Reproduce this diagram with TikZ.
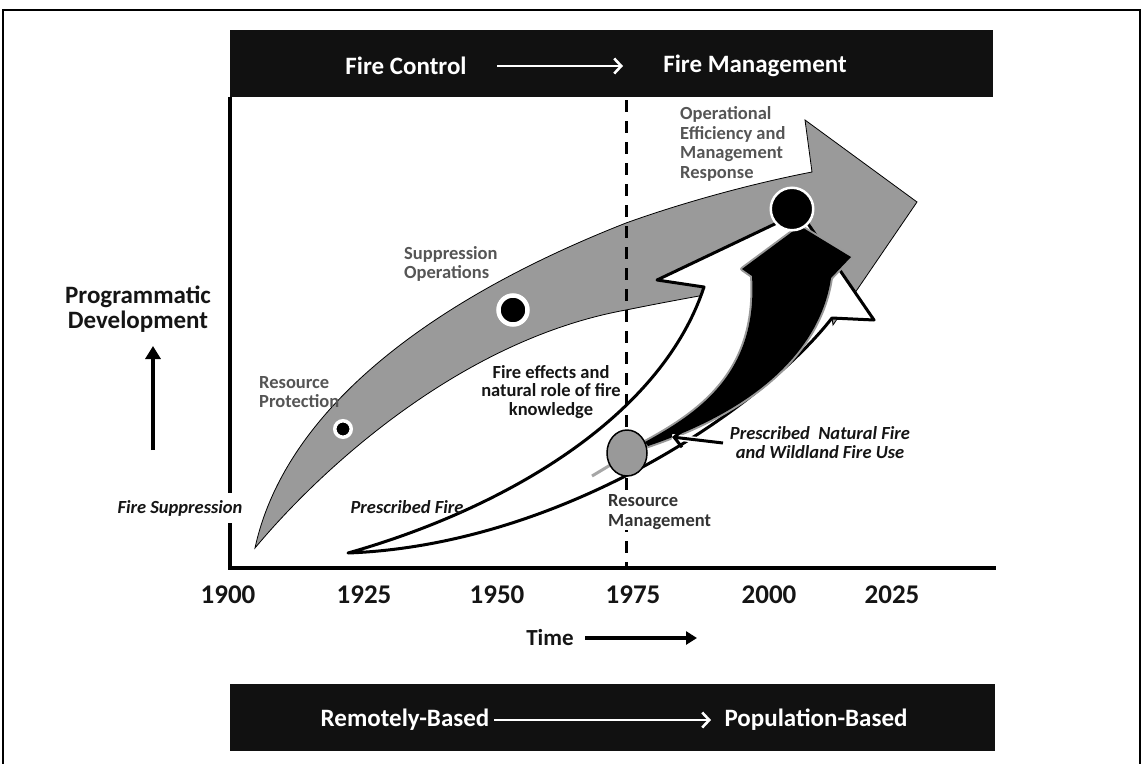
\documentclass[tikz,border=0pt]{standalone}
\usepackage{fontspec}
\setmainfont{Carlito}
\usetikzlibrary{arrows.meta,shapes.geometric}
\definecolor{barblack}{HTML}{111111}
\definecolor{arrowgrey}{HTML}{9A9A9A}
\definecolor{labelgrey}{HTML}{555555}
\definecolor{darklabel}{HTML}{333333}
\definecolor{circgrey}{HTML}{999999}
\definecolor{inkblack}{HTML}{151515}
\begin{document}
\begin{tikzpicture}[x=1pt,y=-1pt,
  bartext/.style={text=white,font=\bfseries\fontsize{25}{30}\selectfont,inner sep=0pt},
  bararrow/.style={draw=white,line width=2.6pt,-{Straight Barb[length=7pt,width=15pt,line width=2.6pt]}},
  greylabel/.style={text=labelgrey,font=\bfseries\fontsize{18.5}{19.5}\selectfont,align=left,inner sep=0pt,anchor=west},
  blacklabel/.style={text=inkblack,font=\bfseries\fontsize{18.5}{18.5}\selectfont,align=center,inner sep=0pt},
  italiclabel/.style={text=inkblack,font=\bfseries\itshape\fontsize{18.5}{19}\selectfont,align=center,inner sep=0pt},
  ticklabel/.style={text=inkblack,font=\bfseries\fontsize{27}{30}\selectfont,inner sep=0pt},
  dotnode/.style={circle,fill=black,draw=white,inner sep=0pt}
]
\useasboundingbox (0,0) rectangle (1143,763);
% outer frame
\draw[line width=1.5pt] (3,770) -- (3,10) -- (1140,10) -- (1140,770);
% bars
\fill[barblack] (230,30) rectangle (993,97);
\fill[barblack] (230,684) rectangle (995,751);
\node[bartext] (fc) at (406,66) {Fire Control};
\node[bartext] (fm) at (755,66) {Fire Management};
\coordinate (fca) at (497,66);
\coordinate (fcb) at (623,66);
\draw[bararrow] (fca) -- (fcb);
\node[bartext] (rb) at (405,720) {Remotely-Based};
\node[bartext] (pb) at (816,720) {Population-Based};
\coordinate (rba) at (494,720);
\coordinate (rbb) at (711,720);
\draw[bararrow] (rba) -- (rbb);
% axes
\draw[line width=4pt,line join=miter] (230,97) -- (230,568) -- (996,568);
% grey sweeping arrow
\draw[fill=arrowgrey,line width=0.8pt,line join=miter]
  (255,548) .. controls (285,410) and (430,300) .. (626,223)
  .. controls (690,200) and (760,182) .. (812,172)
  -- (805,120) -- (917,202) -- (833,325) -- (826,275)
  .. controls (760,285) and (690,297) .. (626,310)
  .. controls (460,340) and (320,470) .. (255,548) -- cycle;
% white arrow
\draw[fill=white,line width=3pt,line join=round]
  (348,553) .. controls (500,510) and (660,420) .. (704,287)
  -- (657,280) -- (800,212) -- (874,320) -- (832,318)
  .. controls (760,410) and (560,545) .. (348,553) -- cycle;
% faint tail and black arrow
\draw[line width=3pt,color=black!35] (592,476) -- (652,440);
\path[fill=black,preaction={draw=black!40,line width=4pt,line join=round}]
  (645,442) .. controls (700,412) and (758,372) .. (752,276)
  -- (742,269) -- (800,226) -- (851,257) -- (831,278)
  .. controls (822,340) and (770,405) .. (648,446) -- cycle;
% dashed 1975 line
\draw[line width=3pt,dash pattern=on 12pt off 9pt] (626,100) -- (626,568);
% circles
\node[ellipse,draw=black,line width=1.5pt,fill=circgrey,minimum width=40pt,minimum height=46pt,inner sep=0pt] (rmcirc) at (627,453) {};
\node[dotnode,line width=3.5pt,minimum size=16.5pt] (rpdot) at (343,429) {};
\node[dotnode,line width=4.5pt,minimum size=29pt] (sodot) at (513,310) {};
\node[dotnode,line width=2.5pt,minimum size=42.5pt] (oedot) at (792,209) {};
% left labels
\node[text=inkblack,font=\bfseries\fontsize{25}{25}\selectfont,align=center,inner sep=0pt] (pd) at (138,309) {Programmatic\\Development};
\coordinate (upa) at (153,450);
\coordinate (upb) at (153,346);
\draw[line width=4.5pt,-{Triangle[length=13pt,width=15pt]}] (upa) -- (upb);
\node[italiclabel,fill=white,inner xsep=1pt,inner ysep=7pt] (fs) at (180,508) {Fire Suppression};
% grey labels
\node[greylabel] (rp) at (259,392) {Resource\\Protection};
\node[greylabel] (so) at (404,264) {Suppression\\Operations};
\node[greylabel] (oe) at (680,144) {Operational\\Efficiency and\\Management\\Response};
\node[greylabel,text=darklabel,fill=white,inner sep=1pt] (rm) at (607,512) {Resource\\Management};
% black labels
\node[blacklabel] (fe) at (551,392) {Fire effects and\\natural role of fire\\knowledge};
\node[italiclabel] (pf) at (407,507) {Prescribed Fire};
\node[italiclabel] (pn) at (820,443) {Prescribed\ \ Natural Fire\\and Wildland Fire Use};
\coordinate (pnt) at (672,437);
\draw[line width=6pt,white] (723,443) -- (pnt);
\draw[line width=3pt,-{Straight Barb[length=9pt,width=18pt,line width=3pt]}] (723,443) -- (pnt);
% ticks
\node[ticklabel] (t1900) at (228,595) {1900};
\node[ticklabel] (t1925) at (364,595) {1925};
\node[ticklabel] (t1950) at (497,595) {1950};
\node[ticklabel] (t1975) at (633,595) {1975};
\node[ticklabel] (t2000) at (769,595) {2000};
\node[ticklabel] (t2025) at (892,595) {2025};
\node[text=inkblack,font=\bfseries\fontsize{23}{25}\selectfont,inner sep=0pt] (time) at (550,638) {Time};
\coordinate (timeb) at (697,638);
\draw[line width=4pt,-{Triangle[length=11pt,width=13pt]}] (585,638) -- (timeb);
\end{tikzpicture}
\end{document}
